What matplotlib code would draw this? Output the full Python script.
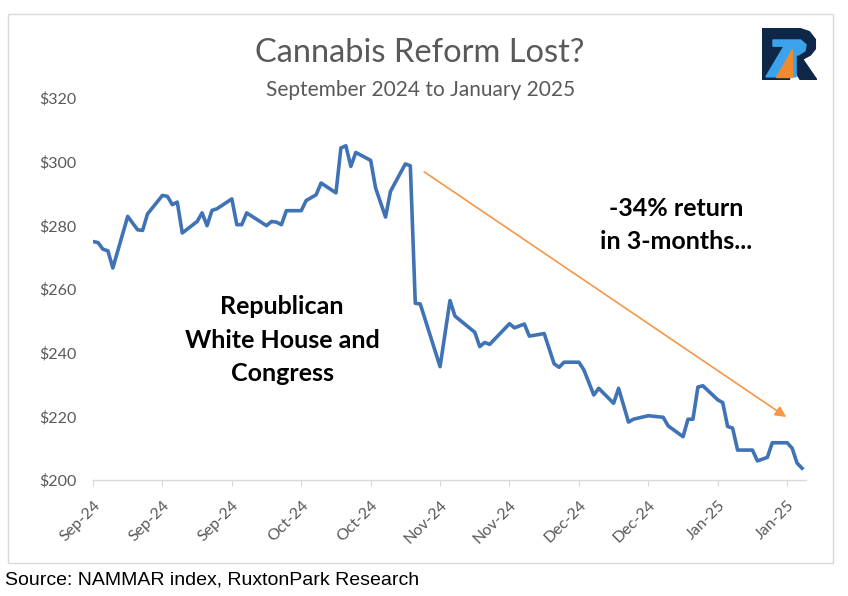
import pandas as pd
import matplotlib
matplotlib.use("Agg")
import matplotlib.pyplot as plt
import matplotlib.dates as mdates
from matplotlib.patches import Polygon, Rectangle

# NAMMAR index closes (turning points only)
dates = [
    "2024-09-01", "2024-09-02", "2024-09-03", "2024-09-04", "2024-09-05", "2024-09-08",
    "2024-09-10", "2024-09-11", "2024-09-12", "2024-09-15", "2024-09-16", "2024-09-17",
    "2024-09-18", "2024-09-19", "2024-09-22", "2024-09-23", "2024-09-24", "2024-09-25",
    "2024-09-26", "2024-09-29", "2024-09-30", "2024-10-01", "2024-10-02", "2024-10-06",
    "2024-10-07", "2024-10-08", "2024-10-09", "2024-10-10", "2024-10-13", "2024-10-14",
    "2024-10-16", "2024-10-17", "2024-10-20", "2024-10-21", "2024-10-22", "2024-10-23",
    "2024-10-24", "2024-10-27", "2024-10-28", "2024-10-30", "2024-10-31", "2024-11-03",
    "2024-11-04", "2024-11-05", "2024-11-06", "2024-11-10", "2024-11-12", "2024-11-13",
    "2024-11-17", "2024-11-18", "2024-11-19", "2024-11-20", "2024-11-24", "2024-11-25",
    "2024-11-27", "2024-11-28", "2024-12-01", "2024-12-03", "2024-12-04", "2024-12-05",
    "2024-12-08", "2024-12-09", "2024-12-11", "2024-12-12", "2024-12-15", "2024-12-16",
    "2024-12-18", "2024-12-19", "2024-12-22", "2024-12-25", "2024-12-26", "2024-12-29",
    "2024-12-30", "2024-12-31", "2025-01-01", "2025-01-02", "2025-01-05", "2025-01-06",
    "2025-01-07", "2025-01-08", "2025-01-09", "2025-01-12", "2025-01-13", "2025-01-15",
    "2025-01-16", "2025-01-19", "2025-01-20", "2025-01-21", "2025-01-22",
]
index_values = [
    274.9, 274.6, 272.5, 272.0, 266.6, 282.8,
    278.6, 278.4, 283.6, 289.4, 289.1, 286.5,
    287.3, 277.6, 281.2, 283.9, 279.9, 284.7,
    285.2, 288.3, 280.2, 280.2, 283.9, 279.9,
    281.2, 281.0, 280.2, 284.6, 284.6, 287.8,
    289.6, 293.3, 290.2, 304.3, 305.0, 298.5,
    302.9, 300.4, 291.7, 282.6, 290.7, 299.3,
    298.7, 255.5, 255.3, 235.6, 256.4, 251.5,
    246.4, 241.9, 243.2, 242.6, 249.1, 247.8,
    249.0, 245.2, 246.0, 236.5, 235.4, 237.0,
    237.0, 234.6, 226.7, 228.8, 224.1, 228.8,
    218.2, 219.1, 220.2, 219.7, 217.0, 213.6,
    219.1, 219.1, 229.2, 229.6, 225.2, 224.3,
    216.8, 216.3, 209.4, 209.4, 206.0, 207.1,
    211.7, 211.7, 210.0, 205.3, 203.7,
]
y_ticks = [200, 220, 240, 260, 280, 300, 320]
tick_start = "2024-09-01"
tick_every_days = 14
n_xticks = 11

title = "Cannabis Reform Lost?"
subtitle = "September 2024 to January 2025"
note_left = "Republican\nWhite House and\nCongress"
note_right = "-34% return\nin 3-months..."
source = "Source: NAMMAR index, RuxtonPark Research"

W, H = 848, 596
GRAY = "#595959"
BLUE = "#3f73b5"
ORANGE = "#F79646"
FONT = "Lato"


def fx(x):
    return x / W


def fy(y):
    return 1 - y / H


fig = plt.figure(figsize=(W / 100, H / 100), dpi=100)
fig.patch.set_facecolor("white")

# light frame of the chart object
fig.add_artist(Rectangle((fx(8), fy(563)), (833 - 8) / W, (563 - 14) / H,
                         transform=fig.transFigure, fill=False,
                         ec="#d9d9d9", lw=1.0))

ax = fig.add_axes([fx(93), fy(480), (806 - 93) / W, (480 - 98) / H])
x = pd.to_datetime(dates)
ax.plot(x, index_values, color=BLUE, lw=2.6, solid_joinstyle="round")

start = pd.Timestamp(tick_start)
ticks = [start + pd.Timedelta(days=tick_every_days * k) for k in range(n_xticks)]
ax.set_xlim(start, start + pd.Timedelta(days=143.8))
ax.set_ylim(y_ticks[0], y_ticks[-1])
ax.set_xticks(ticks)
ax.xaxis.set_major_formatter(mdates.DateFormatter("%b-%y"))
ax.set_yticks(y_ticks)
ax.set_yticklabels([f"${v}" for v in y_ticks])

for side in ["top", "right", "left"]:
    ax.spines[side].set_visible(False)
ax.spines["bottom"].set_color("#d9d9d9")
ax.spines["bottom"].set_linewidth(1.0)
ax.tick_params(axis="y", length=0, pad=12, labelsize=11.5, labelcolor=GRAY)
ax.tick_params(axis="x", length=4, color="#d9d9d9", pad=9, labelsize=11.5,
               labelcolor=GRAY)
for lab in ax.get_yticklabels():
    lab.set_family(FONT)
for lab in ax.get_xticklabels():
    lab.set_family(FONT)
    lab.set_rotation(45)
    lab.set_ha("right")
    lab.set_va("top")
    lab.set_rotation_mode("anchor")

# trend arrow
ax.annotate("", xy=(start + pd.Timedelta(days=139.8), 219.8),
            xytext=(start + pd.Timedelta(days=66.8), 296.8),
            arrowprops=dict(arrowstyle="-|>", color=ORANGE, lw=1.2,
                            mutation_scale=16, shrinkA=0, shrinkB=0))

fig.text(fx(420), fy(53), title, ha="center", va="center", family=FONT,
         fontsize=23.5, color=GRAY)
fig.text(fx(421), fy(90), subtitle, ha="center", va="center", family=FONT,
         fontsize=15, color=GRAY)
fig.text(fx(282), fy(340), note_left, ha="center", va="center", family=FONT,
         fontsize=18, fontweight="bold", color="black", linespacing=1.55)
fig.text(fx(676), fy(225), note_right, ha="center", va="center", family=FONT,
         fontsize=18, fontweight="bold", color="black", linespacing=1.55)
fig.text(fx(5), fy(580), source, ha="left", va="center",
         family="Liberation Sans", fontsize=14, color="black")

# RuxtonPark logo
lg = fig.add_axes([fx(762), fy(80), 55 / W, 52 / H])
lg.set_xlim(0, 1)
lg.set_ylim(1, 0)
lg.axis("off")
lg.add_patch(Polygon([(0, 0), (0.66, 0), (0.86, 0.07), (0.97, 0.22), (0.97, 0.40),
                      (0.88, 0.52), (0.74, 0.60), (1.0, 1.0), (0.70, 1.0),
                      (0.50, 0.66), (0.50, 1.0), (0, 1.0)], color="#0f2747"))
lg.add_patch(Polygon([(0.20, 0.23), (0.70, 0.23), (0.80, 0.32), (0.78, 0.44),
                      (0.66, 0.52), (0.62, 0.52), (0.62, 0.94), (0.07, 0.94),
                      (0.40, 0.35), (0.20, 0.35)], color="#3ba3ec"))
lg.add_patch(Polygon([(0.26, 0.94), (0.55, 0.94), (0.55, 0.40)], color="#f08a2e"))

fig.savefig("out.png", dpi=100)
